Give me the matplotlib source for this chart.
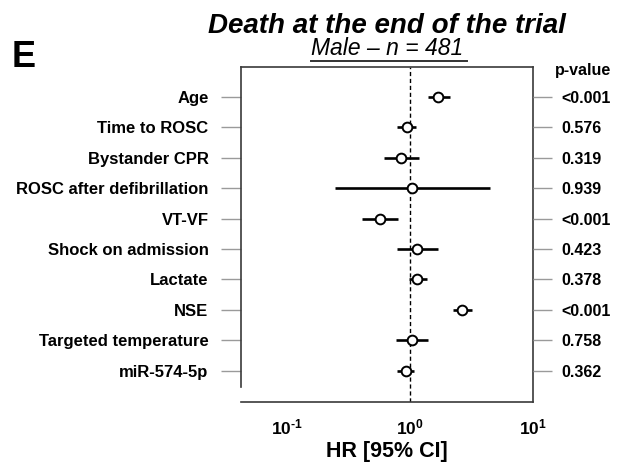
import matplotlib
matplotlib.use('Agg')
import matplotlib.pyplot as plt
from matplotlib.lines import Line2D
import numpy as np

plt.rcParams['font.family'] = ['Liberation Sans', 'DejaVu Sans']
plt.rcParams['mathtext.fontset'] = 'custom'
plt.rcParams['mathtext.rm'] = 'Liberation Sans:bold'
plt.rcParams['mathtext.it'] = 'Liberation Sans:bold'
plt.rcParams['mathtext.bf'] = 'Liberation Sans:bold'

# Cox model results, male subgroup
variables = ['Age', 'Time to ROSC', 'Bystander CPR', 'ROSC after defibrillation',
             'VT-VF', 'Shock on admission', 'Lactate', 'NSE',
             'Targeted temperature', 'miR-574-5p']
hr = [1.70, 0.95, 0.84, 1.04, 0.57, 1.15, 1.15, 2.66, 1.03, 0.92]
ci_low = [1.39, 0.79, 0.61, 0.244, 0.41, 0.78, 0.98, 2.22, 0.77, 0.79]
ci_high = [2.11, 1.12, 1.18, 4.50, 0.80, 1.70, 1.37, 3.17, 1.39, 1.08]
p_values = ['<0.001', '0.576', '0.319', '0.939', '<0.001',
            '0.423', '0.378', '<0.001', '0.758', '0.362']

W, H = 618, 470
fig = plt.figure(figsize=(W / 100, H / 100), dpi=100)
ax = fig.add_axes([241 / W, 1 - 402 / H, (533 - 241) / W, (402 - 67) / H])

rows = np.arange(len(variables))
ax.hlines(rows, ci_low, ci_high, color='black', lw=1.9, zorder=2)
ax.plot(hr, rows, 'o', ms=7, mfc='white', mec='black', mew=1.4, zorder=3)
ax.axvline(1, color='black', lw=1.0, ls=(0, (3, 2)), zorder=1)

ax.set_xscale('log')
ax.set_xlim(10 ** -1.374, 10)
ax.set_ylim(10.03, -0.99)

ax.set_xticks([0.1, 1, 10])
ax.set_xticklabels([r'$10^{\text{-}1}$', r'$10^{0}$', r'$10^{1}$'])
ax.minorticks_off()
ax.tick_params(axis='x', length=0, pad=11, labelsize=12.5)
ax.set_xlabel('HR [95% CI]', fontsize=15.5, fontweight='bold', labelpad=3)

ax.set_yticks(rows)
ax.set_yticklabels(variables, fontsize=12, fontweight='bold')
ax.tick_params(axis='y', length=14.4, width=1.0, color='#9a9a9a', pad=9)

for side in ['top', 'right', 'bottom', 'left']:
    ax.spines[side].set_color('#3a3a3a')
    ax.spines[side].set_linewidth(1.2)
ax.spines['left'].set_bounds(-0.99, 9.55)

# p-values on the right side
ax2 = ax.twinx()
ax2.set_ylim(ax.get_ylim())
ax2.set_yticks(rows)
ax2.set_yticklabels(p_values, fontsize=11.5, fontweight='bold')
ax2.tick_params(axis='y', length=13.7, width=1.0, color='#9a9a9a', pad=7)
for side in ['top', 'right', 'bottom', 'left']:
    ax2.spines[side].set_visible(False)

fig.text(555 / W, 1 - 70 / H, 'p-value', fontsize=11.5, fontweight='bold',
         ha='left', va='center')

cx = (241 + 533) / 2 / W
fig.text(cx, 1 - 33 / H, 'Death at the end of the trial', fontsize=20,
         fontweight='bold', fontstyle='italic', ha='center', va='baseline')
sub = fig.text(cx, 1 - 55 / H, 'Male \u2013 n = 481', fontsize=16.5,
               fontstyle='italic', ha='center', va='baseline')
fig.text(12 / W, 1 - 67 / H, 'E', fontsize=26, fontweight='bold',
         ha='left', va='baseline')

# underline the subtitle
fig.canvas.draw()
bb = sub.get_window_extent()
uy = 1 - 61 / H
fig.add_artist(Line2D([bb.x0 / W, (bb.x1 + 4) / W], [uy, uy],
                      transform=fig.transFigure, color='#333333', lw=1.4))

fig.savefig('out.png', dpi=100)
